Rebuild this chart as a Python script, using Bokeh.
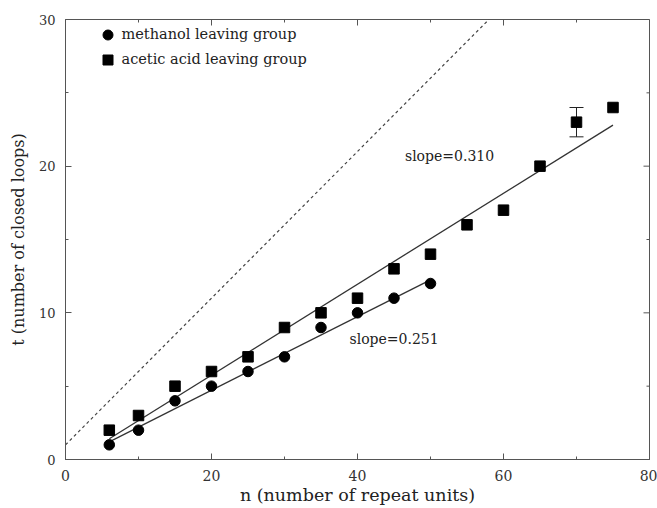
import math
from bokeh.plotting import figure
from bokeh.models import (Range1d, FixedTicker, Whisker, TeeHead,
                          ColumnDataSource, Label, Legend, LegendItem)
from bokeh.embed import file_html
from bokeh.resources import INLINE

# ---- data ----
n_meth = [6, 10, 15, 20, 25, 30, 35, 40, 45, 50]
t_meth = [1, 2, 4, 5, 6, 7, 9, 10, 11, 12]
n_acet = [6, 10, 15, 20, 25, 30, 35, 40, 45, 50, 55, 60, 65, 70, 75]
t_acet = [2, 3, 5, 6, 7, 9, 10, 11, 13, 14, 16, 17, 20, 23, 24]
err_n = [70]
err_lo = [22]
err_hi = [24]

slope_meth, icpt_meth, span_meth = 0.251, -0.3, (6, 50)
slope_acet, icpt_acet, span_acet = 0.310, -0.45, (6, 75)
slope_dash, icpt_dash = 0.5, 1.0

x_lo, x_hi = 0, 80
y_lo, y_hi = 0, 30
x_major = [0, 20, 40, 60, 80]
x_minor = [10, 30, 50, 70]
y_major = [0, 10, 20, 30]
y_minor = [5, 15, 25]

SERIF = "DejaVu Serif"
AX = "#555555"
TXT = "#333333"

p = figure(width=657, height=508, output_backend="svg", toolbar_location=None,
           x_range=Range1d(x_lo, x_hi), y_range=Range1d(y_lo, y_hi),
           x_axis_label="n (number of repeat units)",
           y_axis_label="t (number of closed loops)",
           min_border_left=65, min_border_right=8, min_border_top=19, min_border_bottom=49)
p.grid.visible = False
p.outline_line_color = AX
p.background_fill_color = "white"
p.border_fill_color = "white"

p.xaxis.ticker = FixedTicker(ticks=x_major, minor_ticks=x_minor)
p.yaxis.ticker = FixedTicker(ticks=y_major, minor_ticks=y_minor)

for ax in p.axis:
    ax.axis_line_color = AX
    ax.major_tick_line_color = AX
    ax.minor_tick_line_color = AX
    ax.major_tick_in = 6
    ax.major_tick_out = 0
    ax.minor_tick_in = 3
    ax.minor_tick_out = 0
    ax.major_label_text_font = SERIF
    ax.major_label_text_color = TXT
    ax.axis_label_text_font = SERIF
    ax.axis_label_text_font_style = "normal"
    ax.axis_label_text_color = "#222222"

for ax in p.xaxis:
    ax.major_label_text_font_size = "14px"
    ax.major_label_standoff = 10
    ax.axis_label_text_font_size = "17.5px"
    ax.axis_label_standoff = 1
for ax in p.yaxis:
    ax.major_label_text_font_size = "13px"
    ax.major_label_standoff = 10
    ax.axis_label_text_font_size = "16px"
    ax.axis_label_standoff = 8

# mirrored inward ticks on top and right edges (clipped to the frame)
p.scatter(x_major, [y_hi] * len(x_major), marker="dash", angle=math.pi / 2, size=12,
          line_color=AX, line_width=1)
p.scatter(x_minor, [y_hi] * len(x_minor), marker="dash", angle=math.pi / 2, size=6,
          line_color=AX, line_width=1)
p.scatter([x_hi] * len(y_major), y_major, marker="dash", size=12, line_color=AX, line_width=1)
p.scatter([x_hi] * len(y_minor), y_minor, marker="dash", size=6, line_color=AX, line_width=1)

# dashed reference line across the plot
dash_x = [x_lo, (y_hi - icpt_dash) / slope_dash]
p.line(dash_x, [icpt_dash + slope_dash * v for v in dash_x],
       line_color="#444444", line_dash="3 3", line_width=1.2)

# fitted lines
fx = list(span_acet)
p.line(fx, [icpt_acet + slope_acet * v for v in fx], line_color="#333333", line_width=1.3)
fx = list(span_meth)
p.line(fx, [icpt_meth + slope_meth * v for v in fx], line_color="#333333", line_width=1.3)

# error bar
esrc = ColumnDataSource(dict(base=err_n, lower=err_lo, upper=err_hi))
w = Whisker(source=esrc, base="base", lower="lower", upper="upper", dimension="height",
            line_color="#222222", line_width=1,
            lower_head=TeeHead(size=14, line_color="#222222", line_width=1),
            upper_head=TeeHead(size=14, line_color="#222222", line_width=1))
p.add_layout(w)

r_meth = p.scatter(n_meth, t_meth, marker="circle", size=10.5, fill_color="black", line_color="black")
r_acet = p.scatter(n_acet, t_acet, marker="square", size=10.5, fill_color="black", line_color="black")

p.add_layout(Label(x=46.5, y=20.7, text="slope=0.310", text_font=SERIF, text_font_size="14px",
                   text_color="#222222", text_baseline="middle"))
p.add_layout(Label(x=38.9, y=8.2, text="slope=0.251", text_font=SERIF, text_font_size="14px",
                   text_color="#222222", text_baseline="middle"))

leg = Legend(items=[LegendItem(label="methanol leaving group", renderers=[r_meth]),
                    LegendItem(label="acetic acid leaving group", renderers=[r_acet])],
             location=(26.5, 384.5), glyph_width=25, glyph_height=25, label_height=25,
             spacing=0, padding=3, label_standoff=2, margin=0,
             label_text_font=SERIF, label_text_font_size="14.5px", label_text_color="#222222",
             background_fill_alpha=0, border_line_alpha=0)
p.add_layout(leg)

open("out.html", "w").write(file_html(p, INLINE))
